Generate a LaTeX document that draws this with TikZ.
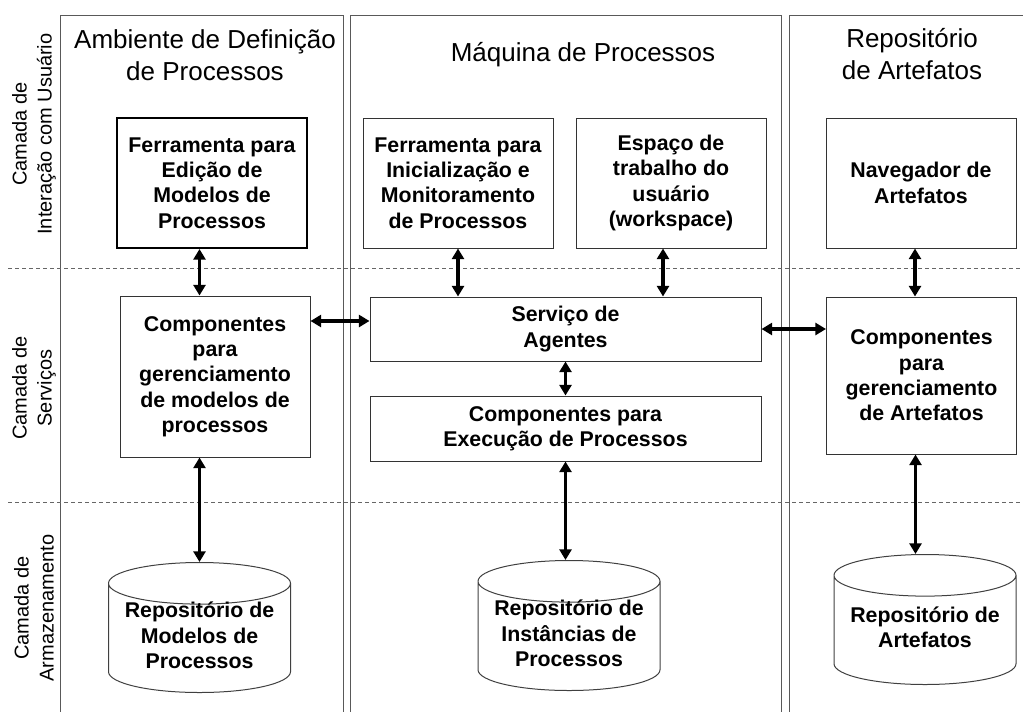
\documentclass[tikz,border=0pt]{standalone}
\usepackage{fontspec}
\setmainfont{Liberation Sans}
\usetikzlibrary{arrows.meta,positioning,shapes.geometric}

\begin{document}
\begin{tikzpicture}[
  x=0.75pt, y=-0.75pt,
  lane/.style={draw=black!65,line width=0.8pt,anchor=north west,inner sep=0pt,minimum height=528.75pt},
  title/.style={align=center,font=\fontsize{19.5pt}{24pt}\selectfont},
  layer/.style={align=center,rotate=90,font=\fontsize{15pt}{18.75pt}\selectfont},
  box/.style={draw=black!80,line width=0.75pt,align=center,inner sep=2pt,
    font=\bfseries\fontsize{16pt}{19pt}\selectfont,minimum width=142.5pt,minimum height=97.5pt},
  tbox/.style={box,draw=black,line width=1.5pt},
  store/.style={cylinder,shape border rotate=90,aspect=0.24,draw=black!75,line width=0.75pt,
    inner sep=0pt,minimum width=136.5pt,minimum height=97.5pt,anchor=north},
  storetext/.style={align=center,inner sep=0pt,font=\bfseries\fontsize{16pt}{19pt}\selectfont},
  sep/.style={draw=black!60,line width=0.75pt,dash pattern=on 3pt off 2.25pt},
  link/.style={<->,line width=2.6pt},
  >={Triangle[length=8pt,width=9pt]}
]
\useasboundingbox (0,0) rectangle (1023,711);

% columns
\node[lane,minimum width=212.25pt] (laneL) at (60,15) {};
\node[lane,minimum width=323.25pt] (laneM) at (350,15) {};
\node[lane,minimum width=184.5pt] (laneR) at (789,15) {};

\node[title] (tL) at (205,55) {Ambiente de Definição\\de Processos};
\node[title] (tM) at (583,55) {Máquina de Processos};
\node[title] (tR) at (912,54) {Repositório\\de Artefatos};

% layers
\draw[sep] (8,268) -- (1023,268);
\draw[sep] (8,502) -- (1023,502);
\node[layer] (lyU) at (34,134) {Camada de\\Interação com Usuário};
\node[layer] (lyS) at (34,388) {Camada de\\Serviços};
\node[layer] (lyA) at (34,608) {Camada de\\Armazenamento};

% interaction
\node[tbox] (edit) at (212,183) {Ferramenta para\\Edição de\\Modelos de\\Processos};
\node[box] (init) at (458,183) {Ferramenta para\\Inicialização e\\Monitoramento\\de Processos};
\node[box, right=16.5pt of init] (work) {Espaço de\\trabalho do\\usuário\\(workspace)};
\node[box] (nav) at (921,183) {Navegador de\\Artefatos};

% services
\node[box,minimum height=120.75pt] (mgmtL) at (215,376.5) {Componentes\\para\\gerenciamento\\de modelos de\\processos};
\node[box,minimum width=293.25pt,minimum height=48pt] (agents) at (565.5,329) {Serviço de\\Agentes};
\node[box,minimum width=293.25pt,minimum height=48.75pt,below=25.5pt of agents] (exec) {Componentes para\\Execução de Processos};
\node[box,minimum height=117.75pt] (artM) at (921.5,375.5) {Componentes\\para\\gerenciamento\\de Artefatos};

% storage
\node[store] (cylL) at (199.5,562) {\rule{130pt}{0pt}};
\node[store] (cylM) at (569,560) {\rule{130pt}{0pt}};
\node[store] (cylR) at (925,554) {\rule{130pt}{0pt}};
\node[storetext] (txtL) at ([yshift=-55pt]cylL.north) {Repositório de\\Modelos de\\Processos};
\node[storetext] (txtM) at ([yshift=-55pt]cylM.north) {Repositório de\\Instâncias de\\Processos};
\node[storetext] (txtR) at ([yshift=-55pt]cylR.north) {Repositório de\\Artefatos};

\draw[link] (edit.south -| cylL) -- (mgmtL.north -| cylL);
\draw[link] (mgmtL.south -| cylL) -- (cylL.north);
\draw[link] ([yshift=6pt]agents.west -| mgmtL.east) -- ([yshift=6pt]agents.west);
\draw[link] (init.south) -- (init.south |- agents.north);
\draw[link] ([xshift=-6pt]work.south) -- ([xshift=-6pt]work.south |- agents.north);
\draw[link] (agents.south) -- (exec.north);
\draw[link] (exec.south) -- (exec.south |- cylM.north);
\draw[link] (agents.east) -- (agents.east -| artM.west);
\draw[link] ([xshift=-4.5pt]nav.south) -- ([xshift=-4.5pt]nav.south |- artM.north);
\draw[link] ([xshift=-4.5pt]artM.south) -- ([xshift=-4.5pt]artM.south |- cylR.north);
\end{tikzpicture}
\end{document}
